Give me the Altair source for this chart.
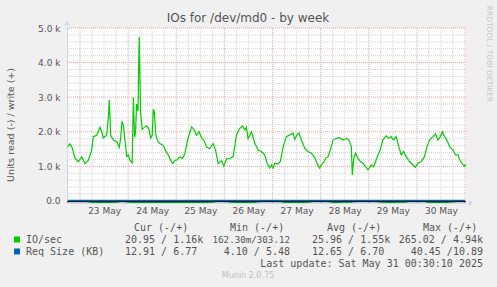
import altair as alt
import pandas as pd

# ---------------- data ----------------
# hours relative to 2025-05-23 00:00
write_hours = [-6.1, -5.0, -4.1, -2.5, -0.8, 0.8, 2.5, 4.1, 5.8, 6.6, 8.3, 9.1, 10.0, 10.8, 11.6,
               13.3, 14.1, 14.6, 15.3, 16.6, 18.3, 19.6, 20.3, 20.9, 21.6, 22.4, 23.3, 24.1, 24.9, 26.0,
               26.6, 27.2, 27.7, 28.2, 28.9, 29.5, 30.2, 31.0, 31.9, 33.2, 34.4, 35.2, 36.0, 36.5, 37.0,
               37.7, 38.5, 39.8, 41.5, 42.8, 44.0, 45.2, 46.2, 47.3, 48.5, 49.8, 51.1, 52.3, 53.9, 55.6,
               56.8, 58.1, 59.4, 60.6, 61.8, 63.1, 64.7, 66.4, 67.6, 68.9, 70.6, 71.7, 73.1, 74.7, 76.4,
               78.0, 79.3, 81.0, 82.2, 83.0, 83.8,
               85.5, 87.2, 88.8, 90.5, 92.1, 93.3, 94.6, 95.5, 96.3, 97.1, 98.8, 99.9, 101.3, 102.9, 104.6,
               106.2, 107.1, 108.2, 109.2, 110.4, 112.1, 113.7, 115.4, 117.0, 118.2, 119.5, 120.4, 121.2,
               122.5, 123.7, 124.8, 126.2, 127.8, 129.5, 131.1, 132.8, 134.1, 135.3, 135.8, 136.5, 137.5,
               138.6, 139.8, 141.1, 142.4, 143.6, 145.3, 146.4, 147.4, 148.6, 149.7, 151.0, 152.7, 154.0,
               155.2, 156.4, 157.7, 159.0, 160.2, 161.4, 162.7, 164.3, 166.0, 167.3, 168.5, 170.2, 171.8,
               173.0, 174.3, 176.0, 177.3, 178.5, 179.7, 180.7, 181.8, 183.0, 184.3, 186.0, 187.3, 188.5,
               189.3, 190.7, 191.8, 192.3]
# IO/sec write (thousands)
write_k = [1.57, 1.65, 1.57, 1.23, 1.14, 1.27, 1.08, 1.17, 1.47, 1.86, 1.90, 2.0, 2.13, 2.0, 1.82,
           1.9, 2.39, 2.92, 1.9, 1.76, 1.71, 1.55, 1.85, 2.3, 2.2, 1.76, 1.28, 1.33, 1.18, 1.10,
           3.0, 1.84, 1.98, 2.8, 2.6, 4.74, 2.58, 2.07, 2.12, 2.17, 2.07, 1.82, 1.9, 2.63, 2.6,
           1.96, 1.76, 1.66, 1.6, 1.44, 1.33, 1.18, 1.08, 1.17, 1.19, 1.27, 1.23, 1.37, 1.82, 2.14,
           2.07, 1.9, 2.0, 1.82, 1.76, 1.56, 1.51, 1.66, 1.47, 1.08, 1.17, 1.0, 1.22, 1.22, 1.29,
           1.9, 2.07, 2.17, 2.05, 2.13, 1.8,
           2.0, 1.67, 1.47, 1.43, 1.33, 1.09, 0.95, 1.04, 0.95, 1.09, 1.07, 1.14, 1.57, 1.86, 1.91,
           1.96, 1.78, 1.91, 1.97, 1.76, 1.52, 1.43, 1.38, 1.26, 1.09, 0.95, 1.04, 1.09,
           1.23, 1.28, 1.47, 1.76, 1.81, 1.83, 1.76, 1.81, 1.76, 1.57, 0.75, 1.23, 1.38,
           1.23, 1.14, 1.09, 0.99, 0.9, 1.04, 0.99, 1.14, 1.33, 1.47, 1.76, 1.88, 1.81,
           1.86, 1.76, 1.86, 1.57, 1.33, 1.43, 1.28, 1.14, 1.04, 0.97, 1.09, 1.14, 1.28,
           1.57, 1.76, 1.86, 1.94, 1.76, 1.86, 2.0, 1.86, 1.76, 1.57, 1.47, 1.33, 1.33,
           1.19, 1.07, 1.0, 1.07]

# IO/sec read (drawn negative), every 3 hours from -6 h
read_hours = list(range(-6, 193, 3))
read_iops = [-8, -8, -8, -10, -40, -45, -40, -42, -38, -10, -35, -40, -45, -40, -42, -38, -40, -44,
             -40, -38, -42, -40, -45, -40, -38, -10, -8, -38, -42, -40, -44, -40, -12, -8, -8, -10,
             -40, -42, -38, -40, -36, -10, -8, -10, -40, -42, -38, -36, -10, -8, -8, -10, -38, -42,
             -40, -38, -36, -10, -8, -10, -40, -42, -38, -40, -30, -10, -8]

# Req Size (KB), write
req_hours = [-6, 18, 42, 66, 90, 114, 138, 162, 186, 192]
req_write = [6.7, 6.6, 6.8, 6.7, 6.6, 6.7, 6.8, 6.7, 6.7, 6.77]

day_labels = ["23 May", "24 May", "25 May", "26 May", "27 May", "28 May", "29 May", "30 May"]
y_ticks = [0, 1000, 2000, 3000, 4000, 5000]

series_names = ["IO/sec", "Req Size (KB)"]
series_colors = ["#00CC00", "#0066B3"]
col_headers = ["Cur (-/+)", "Min (-/+)", "Avg (-/+)", "Max (-/+)"]
cur_vals = ["20.95 / 1.16k", "12.91 / 6.77"]
min_vals = ["162.30m/303.12", "4.10 / 5.48"]
avg_vals = ["25.96 / 1.55k", "12.65 / 6.70"]
max_vals = ["265.02 / 4.94k", "40.45 /10.89"]
title_text = "IOs for /dev/md0 - by week"
ytitle_text = "Units read (-) / write (+)"
last_update = "Last update: Sat May 31 00:30:10 2025"
munin_text = "Munin 2.0.75"
rrd_text = "RRDTOOL / TOBI OETIKER"

# ---------------- layout ----------------
PL, PT = 67, 28
W, H = 399, 175
TXT = "#555555"
MONO = "DejaVu Sans Mono"
SANS = "DejaVu Sans"

xs = alt.Scale(domain=[-6.5, 192.5], nice=False, zero=False)
ys = alt.Scale(domain=[-60, 5000], nice=False, zero=False)

day_arr = "[" + ",".join("'%s'" % d for d in day_labels) + "]"
x_axis = alt.Axis(
    values=[12 + 24 * i for i in range(len(day_labels))],
    labelExpr=day_arr + "[round((datum.value - 12) / 24)]",
    ticks=False, grid=False, domainColor="#CFD6F8", labelColor=TXT, labelFont=SANS,
    labelFontSize=9, labelPadding=3, title="")
y_axis = alt.Axis(
    values=y_ticks,
    labelExpr="datum.value == 0 ? '0.0' : format(datum.value / 1000, '.1f') + ' k'",
    ticks=False, grid=False, domainColor="#CFD6F8", labelColor=TXT, labelFont=SANS,
    labelFontSize=9, labelPadding=7, title="")

minor_h = [v for v in range(200, 5000, 200) if v % 1000]
major_h = list(range(1000, 5001, 1000))
minor_v = [h for h in range(-6, 193, 6) if h % 24]
major_v = list(range(0, 193, 24))

def hrules(vals, color):
    return alt.Chart(pd.DataFrame({"v": vals})).mark_rule(
        color=color, strokeDash=[1, 1], strokeWidth=1).encode(
        y=alt.Y("v:Q", scale=ys, axis=y_axis))

def vrules(vals, color):
    return alt.Chart(pd.DataFrame({"h": vals})).mark_rule(
        color=color, strokeDash=[1, 1], strokeWidth=1).encode(
        x=alt.X("h:Q", scale=xs, axis=x_axis))

grid = [hrules(minor_h, "#D4D4D4"), vrules(minor_v, "#D4D4D4"),
        hrules(major_h, "#EBA5A5"), vrules(major_v, "#EBA5A5")]

def series_line(hours, vals, color, width):
    return alt.Chart(pd.DataFrame({"h": hours, "v": vals})).mark_line(
        color=color, strokeWidth=width, clip=True).encode(
        x=alt.X("h:Q", scale=xs, axis=x_axis), y=alt.Y("v:Q", scale=ys, axis=y_axis))

write_line = series_line(write_hours, [k * 1000 for k in write_k], series_colors[0], 1.2)
read_line = series_line(read_hours, read_iops, series_colors[0], 1.2)
req_line = series_line(req_hours, req_write, series_colors[1], 2)

zero_rule = alt.Chart(pd.DataFrame({"v": [0]})).mark_rule(
    color="black", strokeWidth=1, yOffset=0.8).encode(y=alt.Y("v:Q", scale=ys, axis=y_axis))

one = pd.DataFrame({"a": [0]})
arrows = [
    alt.Chart(one).mark_point(shape="triangle-up", filled=True, color="#CFD6F8", size=30, opacity=1).encode(
        x=alt.value(0), y=alt.value(-5)),
    alt.Chart(one).mark_point(shape="triangle-right", filled=True, color="#CFD6F8", size=30, opacity=1).encode(
        x=alt.value(404), y=alt.value(H)),
]

def txt(s, x, y, align="left", font=MONO, size=10, color=TXT, angle=0):
    kw = dict(align=align, baseline="middle", font=font, fontSize=size, color=color)
    if angle:
        kw["angle"] = angle
    return alt.Chart(pd.DataFrame({"t": [s]})).mark_text(**kw).encode(
        text="t:N", x=alt.value(x - PL), y=alt.value(y - PT))

texts = [
    txt(title_text, 248, 18, align="center", font=SANS, size=12),
    txt(ytitle_text, 11, 125, align="center", font=SANS, size=9.5, angle=270),
    txt(rrd_text, 489, 54, align="center", font=SANS, size=7.5, color="#C8C8C8", angle=90),
    txt(col_headers[0], 134, 228),
    txt(col_headers[1], 230, 228),
    txt(col_headers[2], 327, 228),
    txt(col_headers[3], 423, 228),
    txt(series_names[0], 26, 240),
    txt(series_names[1], 26, 252),
    txt(cur_vals[0], 125, 240),
    txt(cur_vals[1], 125, 252),
    # this field overflows its column in the reference; set a touch smaller to fit 212..290
    txt(min_vals[0], 290, 240, align="right", size=9.2),
    txt(min_vals[1], 290, 252, align="right"),
    txt(avg_vals[0], 312, 240),
    txt(avg_vals[1], 312, 252),
    txt(max_vals[0], 483, 240, align="right"),
    txt(max_vals[1], 483, 252, align="right"),
    txt(last_update, 483, 264, align="right"),
    txt(munin_text, 248, 276, align="center", font=SANS, size=8, color="#C0C0C0"),
]

squares = [
    alt.Chart(one).mark_square(color=series_colors[i], size=36, opacity=1).encode(
        x=alt.value(17 - PL), y=alt.value(yy - PT))
    for i, yy in enumerate([239.5, 251.5])
]

chart = alt.layer(
    *grid, read_line, write_line, req_line, zero_rule, *arrows, *texts, *squares
).properties(
    width=W, height=H,
    padding={"left": PL, "top": PT, "right": 497 - PL - W, "bottom": 287 - PT - H},
    autosize=alt.AutoSizeParams(type="none"),
    background="#F0F0F0",
).configure_view(fill="white", stroke=None)

chart.save("out.html", embed_options={"renderer": "svg", "actions": False})
